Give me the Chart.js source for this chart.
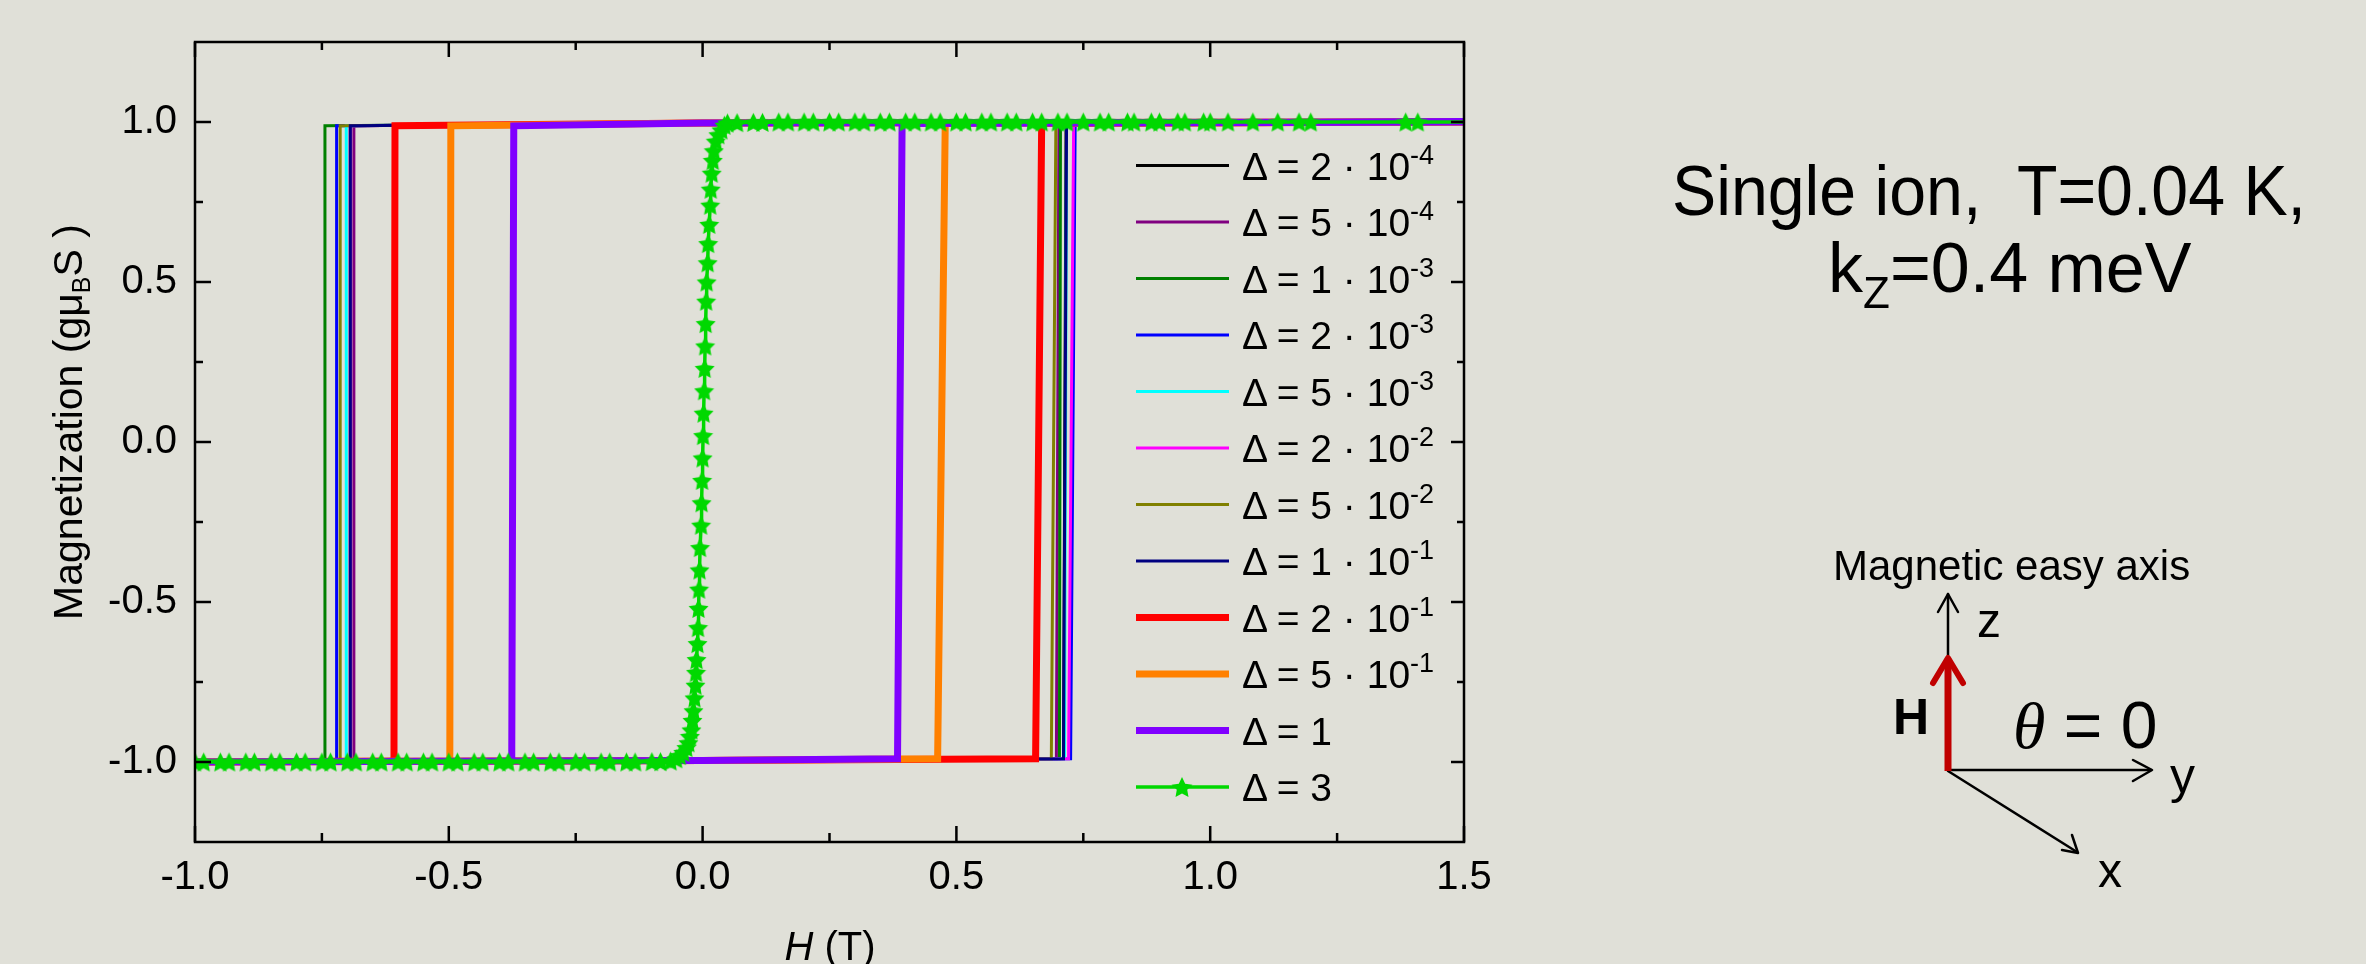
<!DOCTYPE html>
<html>
<head>
<meta charset="utf-8">
<title>Magnetization vs field</title>
<script src="https://cdn.jsdelivr.net/npm/chart.js@4.4.1/dist/chart.umd.min.js"></script>
<style>
  html, body { margin: 0; padding: 0; background: #e0e0d8; }
  #wrap { position: relative; width: 2366px; height: 964px; overflow: hidden; }
  #chart { position: absolute; left: 0; top: 0; }
  #overlay { position: absolute; left: 0; top: 0; font-family: "Liberation Sans", Arial, sans-serif; }
  #overlay text { fill: #000; }
</style>
</head>
<body>
<div id="wrap">
  <canvas id="chart" width="2366" height="964"></canvas>
  <svg id="overlay" width="2366" height="964" xmlns="http://www.w3.org/2000/svg">
    <!-- axis titles -->
    <text transform="translate(82,422) rotate(-90)" text-anchor="middle" font-size="41">Magnetization (gμ<tspan font-size="25" dy="8">B</tspan><tspan dy="-8">S )</tspan></text>
    <text x="830" y="960" text-anchor="middle" font-size="40"><tspan font-style="italic">H</tspan> (T)</text>

    <!-- right hand notes -->
    <text x="1672" y="215" font-size="70" textLength="634" lengthAdjust="spacingAndGlyphs" style="white-space:pre">Single ion,  T=0.04 K,</text>
    <text x="1828" y="292" font-size="70">k<tspan font-size="44" dy="16">Z</tspan><tspan dy="-16">=0.4 meV</tspan></text>

    <text x="1833" y="580" font-size="42">Magnetic easy axis</text>
    <g stroke="#000" stroke-width="2.5" fill="none" stroke-linecap="round" stroke-linejoin="round">
      <line x1="1948" y1="770" x2="1948" y2="594"/>
      <polyline points="1938,612 1948,594 1958,612"/>
      <line x1="1948" y1="770" x2="2151" y2="770"/>
      <polyline points="2133,760 2152,770 2133,781"/>
      <line x1="1948" y1="771" x2="2077" y2="852"/>
      <polyline points="2062,850 2078,853 2072,835"/>
    </g>
    <line x1="1948" y1="771" x2="1948" y2="662" stroke="#c00000" stroke-width="7"/>
    <polyline points="1933,683 1948,658 1963,683" stroke="#c00000" stroke-width="6" fill="none" stroke-linecap="round" stroke-linejoin="round"/>
    <text x="1977" y="637" font-size="48">z</text>
    <text x="1893" y="734" font-size="50" font-weight="bold">H</text>
    <text x="2013" y="748" font-size="66"><tspan font-family="'Liberation Serif', serif" font-style="italic">θ</tspan> = 0</text>
    <text x="2170" y="793" font-size="50">y</text>
    <text x="2098" y="887" font-size="48">x</text>

    <g id="legend"></g>
  </svg>
</div>
<script>
// axes
const xRange = [-1.0, 1.5];
const yRange = [-1.25, 1.25];
const xTickValues = [-1.0, -0.5, 0.0, 0.5, 1.0, 1.5];
const yTickValues = [-1.0, -0.5, 0.0, 0.5, 1.0];

// Δ = mantissa · 10^exponent, one per curve
const deltaMant = [2, 5, 1, 2, 5, 2, 5, 1, 2, 5, 1, 3];
const deltaExp  = [-4, -4, -3, -3, -3, -2, -2, -1, -1, -1, 0, 0];

// switching fields of the loops (Δ = 2e-4 ... 1), T
const hUpLow    = [0.711, 0.697, 0.703, 0.725, 0.713, 0.721, 0.687, 0.711, 0.656, 0.463, 0.384];
const hUpHigh   = [0.716, 0.702, 0.705, 0.734, 0.717, 0.731, 0.696, 0.717, 0.668, 0.478, 0.393];
const hDownHigh = [-0.694, -0.687, -0.744, -0.721, -0.702, -0.694, -0.714, -0.694, -0.606, -0.496, -0.372];
const hDownLow  = [-0.694, -0.687, -0.744, -0.721, -0.702, -0.694, -0.714, -0.694, -0.608, -0.498, -0.376];

// magnetization along the branches
const lowerBranchM = [-1.0, -0.995, -0.99];        // H=-1, H=0, just before the up jump
const upperBranchM = [0.995, 1.0, 0.997, 0.988];   // after up jump, H=1.5, H=0, before down jump
const downJumpEndM = -0.997;

// Δ = 3, no hysteresis
const h3 = [
  -1.000, -0.983, -0.950, -0.933, -0.900, -0.883, -0.850, -0.833, -0.800, -0.783,
  -0.750, -0.733, -0.700, -0.683, -0.650, -0.633, -0.600, -0.583, -0.550, -0.533,
  -0.500, -0.483, -0.450, -0.433, -0.400, -0.383, -0.350, -0.333, -0.300, -0.283,
  -0.250, -0.233, -0.200, -0.183, -0.150, -0.133, -0.100, -0.083,
  -0.063, -0.052, -0.045, -0.038, -0.032, -0.028, -0.025, -0.022, -0.020, -0.018,
  -0.016, -0.014, -0.013, -0.012, -0.010, -0.009, -0.008, -0.007, -0.006, -0.005,
  -0.003, -0.002, -0.001, 0.000, 0.001, 0.002, 0.003, 0.004, 0.005, 0.006,
  0.007, 0.008, 0.010, 0.011, 0.013, 0.015, 0.016, 0.018, 0.020, 0.022,
  0.026, 0.031, 0.037, 0.043, 0.049,
  0.068, 0.100, 0.118, 0.150, 0.168, 0.200, 0.218, 0.250, 0.268, 0.300,
  0.318, 0.350, 0.368, 0.400, 0.418, 0.450, 0.468, 0.500, 0.518, 0.550,
  0.568, 0.600, 0.618, 0.650, 0.668, 0.700, 0.718, 0.750, 0.783, 0.800,
  0.837, 0.850, 0.884, 0.900, 0.936, 0.950, 0.987, 1.000, 1.035, 1.084,
  1.133, 1.175, 1.198, 1.385, 1.409, 1.500
];
const m3 = [
  -1.0, -1.0, -1.0, -1.0, -1.0, -1.0, -1.0, -1.0, -1.0, -1.0,
  -1.0, -1.0, -1.0, -1.0, -1.0, -1.0, -1.0, -1.0, -1.0, -1.0,
  -1.0, -1.0, -1.0, -1.0, -1.0, -1.0, -1.0, -1.0, -1.0, -1.0,
  -1.0, -1.0, -1.0, -1.0, -1.0, -1.0, -0.999, -0.999,
  -0.997, -0.990, -0.980, -0.970, -0.955, -0.940, -0.920, -0.900, -0.870, -0.840,
  -0.800, -0.760, -0.720, -0.680, -0.630, -0.580, -0.520, -0.460, -0.400, -0.330,
  -0.260, -0.190, -0.120, -0.050, 0.020, 0.090, 0.160, 0.230, 0.300, 0.370,
  0.440, 0.500, 0.560, 0.620, 0.680, 0.740, 0.790, 0.840, 0.880, 0.910,
  0.940, 0.960, 0.975, 0.990, 0.997,
  0.998, 0.999, 0.999, 1.0, 1.0, 1.0, 1.0, 1.0, 1.0, 1.0,
  1.0, 1.0, 1.0, 1.0, 1.0, 1.0, 1.0, 1.0, 1.0, 1.0,
  1.0, 1.0, 1.0, 1.0, 1.0, 1.0, 1.0, 1.0, 1.0, 1.0,
  1.0, 1.0, 1.0, 1.0, 1.0, 1.0, 1.0, 1.0, 1.0, 1.0,
  1.0, 1.0, 1.0, 1.0, 1.0, 1.0
];

// styles
const lineColors = ['#000000', '#800080', '#008000', '#0000ff', '#00ffff', '#ff00ff',
                    '#808000', '#000080', '#ff0000', '#ff8000', '#8000ff', '#00d800'];
const lineWidths = [3, 3, 3, 3, 3, 3, 3, 3, 7, 7, 7, 3.5];
const FONT = '"Liberation Sans", Arial, sans-serif';

function starPoints(cx, cy, R, r) {
  const pts = [];
  for (let k = 0; k < 10; k++) {
    const rad = k % 2 ? r : R;
    const a = -Math.PI / 2 + k * Math.PI / 5;
    pts.push([cx + rad * Math.cos(a), cy + rad * Math.sin(a)]);
  }
  return pts;
}

function makeStar(size, color) {
  const c = document.createElement('canvas');
  c.width = size; c.height = size;
  const g = c.getContext('2d');
  const R = size / 2;
  g.fillStyle = color;
  g.beginPath();
  starPoints(size / 2, size / 2 + R * 0.1, R, R * 0.5).forEach(p => g.lineTo(p[0], p[1]));
  g.closePath();
  g.fill();
  return c;
}
const star = makeStar(21, lineColors[11]);

function deltaLabel(i) {
  return 'Δ = ' + deltaMant[i] + (deltaExp[i] ? ' · 10^' + deltaExp[i] : '');
}

const n = deltaMant.length;
const datasets = [];
for (let i = 0; i < n - 1; i++) {
  datasets.push({
    label: deltaLabel(i),
    data: [
      {x: xRange[0], y: lowerBranchM[0]},
      {x: 0, y: lowerBranchM[1]},
      {x: hUpLow[i], y: lowerBranchM[2]},
      {x: hUpHigh[i], y: upperBranchM[0]},
      {x: xRange[1], y: upperBranchM[1]},
      {x: 0, y: upperBranchM[2]},
      {x: hDownHigh[i], y: upperBranchM[3]},
      {x: hDownLow[i], y: downJumpEndM},
      {x: xRange[0], y: lowerBranchM[0]}
    ],
    borderColor: lineColors[i],
    borderWidth: lineWidths[i],
    pointRadius: 0,
    showLine: true,
    clip: 0,
    order: n - i
  });
}
datasets.push({
  label: deltaLabel(n - 1),
  data: h3.map((h, k) => ({x: h, y: m3[k]})),
  borderColor: lineColors[n - 1],
  borderWidth: lineWidths[n - 1],
  pointStyle: star,
  pointRadius: ctx => (ctx.raw && ctx.raw.x >= xRange[1]) ? 0 : 9,
  showLine: true,
  clip: 0,
  order: 1
});

// closed frame with inward ticks on all four sides
const frameTicks = {
  id: 'frameTicks',
  afterDatasetsDraw(chart) {
    const {ctx, chartArea: a, scales: {x, y}} = chart;
    ctx.save();
    ctx.strokeStyle = '#000';
    ctx.lineWidth = 2.5;
    ctx.strokeRect(a.left, a.top, a.right - a.left, a.bottom - a.top);
    ctx.beginPath();
    const xs = [];
    xTickValues.forEach((v, k) => {
      xs.push([x.getPixelForValue(v), 15]);
      if (k < xTickValues.length - 1) xs.push([x.getPixelForValue((v + xTickValues[k + 1]) / 2), 8]);
    });
    xs.forEach(([px, len]) => {
      ctx.moveTo(px, a.bottom); ctx.lineTo(px, a.bottom - len - 1);
      ctx.moveTo(px, a.top); ctx.lineTo(px, a.top + len);
    });
    const ys = [];
    yTickValues.forEach((v, k) => {
      ys.push([y.getPixelForValue(v), 16]);
      if (k < yTickValues.length - 1) ys.push([y.getPixelForValue((v + yTickValues[k + 1]) / 2), 8]);
    });
    ys.forEach(([py, len]) => {
      ctx.moveTo(a.left, py); ctx.lineTo(a.left + len, py);
      ctx.moveTo(a.right, py); ctx.lineTo(a.right - Math.round(len * 0.82), py);
    });
    ctx.stroke();
    ctx.restore();
  }
};

Chart.defaults.font.family = FONT;
const chart = new Chart(document.getElementById('chart'), {
  type: 'scatter',
  data: {datasets: datasets},
  options: {
    responsive: false,
    devicePixelRatio: 1,
    animation: false,
    events: [],
    layout: {padding: {left: 0, top: 41, right: 902, bottom: 0}},
    plugins: {legend: {display: false}, tooltip: {enabled: false}},
    scales: {
      x: {
        type: 'linear',
        min: xRange[0], max: xRange[1],
        grid: {display: false, drawTicks: false},
        border: {display: false},
        ticks: {
          color: '#000', font: {size: 40, family: FONT}, padding: 12,
          maxRotation: 0, autoSkip: false,
          callback: v => Number(v).toFixed(1)
        },
        afterBuildTicks: s => { s.ticks = xTickValues.map(v => ({value: v})); },
        afterFit: s => { s.height = 122; }
      },
      y: {
        type: 'linear',
        min: yRange[0], max: yRange[1],
        grid: {display: false, drawTicks: false},
        border: {display: false},
        ticks: {
          color: '#000', font: {size: 40, family: FONT}, padding: 18,
          autoSkip: false,
          callback: v => Number(v).toFixed(1)
        },
        afterBuildTicks: s => { s.ticks = yTickValues.map(v => ({value: v})); },
        afterFit: s => { s.width = 195; }
      }
    }
  },
  plugins: [frameTicks]
});

// legend in the plot, built from the chart's datasets
const svgNS = 'http://www.w3.org/2000/svg';
const legendG = document.getElementById('legend');
function el(tag, attrs) {
  const e = document.createElementNS(svgNS, tag);
  for (const k in attrs) e.setAttribute(k, attrs[k]);
  return e;
}
chart.data.datasets.forEach((ds, i) => {
  const yRow = 165.6 + 56.5 * i;
  legendG.appendChild(el('line', {x1: 1136, x2: 1229, y1: yRow, y2: yRow,
    stroke: ds.borderColor, 'stroke-width': ds.borderWidth}));
  if (ds.pointStyle === star) {
    const pts = starPoints(1182, yRow + 1, 11, 5.5).map(p => p[0].toFixed(1) + ',' + p[1].toFixed(1));
    legendG.appendChild(el('polygon', {points: pts.join(' '), fill: ds.borderColor}));
  }
  const t = el('text', {x: 1242, y: yRow + 14, 'font-size': 39});
  t.appendChild(document.createTextNode('Δ = ' + deltaMant[i] + (deltaExp[i] ? ' · 10' : '')));
  if (deltaExp[i]) {
    const sup = el('tspan', {dy: -16, 'font-size': 27});
    sup.textContent = String(deltaExp[i]);
    t.appendChild(sup);
  }
  legendG.appendChild(t);
});
</script>
</body>
</html>
